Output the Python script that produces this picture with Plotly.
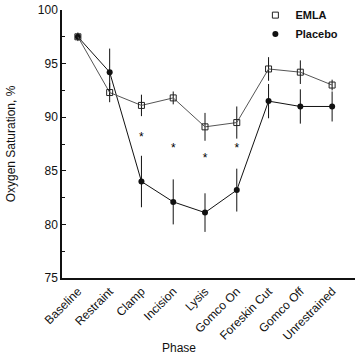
import plotly.graph_objects as go

phases = ["Baseline", "Restraint", "Clamp", "Incision", "Lysis", "Gomco On",
          "Foreskin Cut", "Gomco Off", "Unrestrained"]
emla = [97.5, 92.3, 91.1, 91.8, 89.1, 89.5, 94.5, 94.2, 93.0]
emla_err = [0.4, 0.9, 1.0, 0.6, 1.3, 1.5, 1.1, 1.1, 0.5]
placebo = [97.5, 94.2, 84.0, 82.1, 81.1, 83.2, 91.5, 91.0, 91.0]
placebo_err = [0.3, 2.2, 2.4, 2.1, 1.8, 2.0, 1.6, 1.6, 1.4]
star_phases = ["Clamp", "Incision", "Lysis", "Gomco On"]
star_y = [88.1, 87.0, 86.1, 87.0]

idx = {p: i for i, p in enumerate(phases)}
xs = list(range(len(phases)))
font = "Liberation Sans, Arial, sans-serif"

fig = go.Figure()
fig.add_trace(go.Scatter(
    x=xs, y=placebo, mode="lines+markers", showlegend=False,
    line=dict(color="#111", width=1),
    marker=dict(symbol="circle", size=6, color="#111"),
    error_y=dict(type="data", array=placebo_err, color="#111", thickness=1, width=0)))
fig.add_trace(go.Scatter(
    x=xs, y=emla, mode="lines+markers", showlegend=False,
    line=dict(color="#555", width=1),
    marker=dict(symbol="square-open", size=6, color="#222", line=dict(width=1)),
    error_y=dict(type="data", array=emla_err, color="#111", thickness=1, width=0)))
fig.add_trace(go.Scatter(
    x=[idx[p] for p in star_phases], y=star_y, mode="text", text=["*"] * len(star_y),
    textfont=dict(family=font, size=12, color="#000"), showlegend=False))
# legend entries
fig.add_trace(go.Scatter(x=[None], y=[None], mode="markers", name="<b>EMLA</b>",
                         marker=dict(symbol="square-open", size=6, color="#222")))
fig.add_trace(go.Scatter(x=[None], y=[None], mode="markers", name="<b>Placebo</b>",
                         marker=dict(symbol="circle", size=6, color="#111")))

fig.add_annotation(text="Phase", xref="paper", yref="paper", x=0.40, y=-0.262,
                   xanchor="center", yanchor="middle", showarrow=False,
                   font=dict(size=12, family=font, color="#111"))

fig.update_layout(
    width=360, height=359,
    margin=dict(l=62, r=5, t=10, b=81, autoexpand=False),
    paper_bgcolor="white", plot_bgcolor="white",
    font=dict(family=font, size=11, color="#111"),
    legend=dict(x=0.66, y=1.035, xanchor="left", yanchor="top",
                bgcolor="rgba(0,0,0,0)", font=dict(size=11),
                itemwidth=30, tracegroupgap=0),
    xaxis=dict(range=[-0.5, 8.72], tickmode="array", tickvals=xs, ticktext=phases,
               tickangle=-45, showgrid=False, zeroline=False, showline=True,
               linecolor="#111", linewidth=1.5, ticks="", tickfont=dict(size=12),
               automargin=False),
    yaxis=dict(range=[75, 100], tickvals=[75, 80, 85, 90, 95, 100], showgrid=False,
               zeroline=False, showline=True, linecolor="#111", linewidth=1.5,
               ticks="inside", ticklen=4, tickcolor="#111",
               minor=dict(tickvals=[77.5, 82.5, 87.5, 92.5, 97.5], ticks="inside",
                          ticklen=3, tickcolor="#111"),
               tickfont=dict(size=12), automargin=False,
               title=dict(text="Oxygen Saturation, %", font=dict(size=12), standoff=20)),
)
fig.write_html("out.html", config={"displayModeBar": False},
               post_script="document.body.style.margin='0';document.body.style.padding='0';")
